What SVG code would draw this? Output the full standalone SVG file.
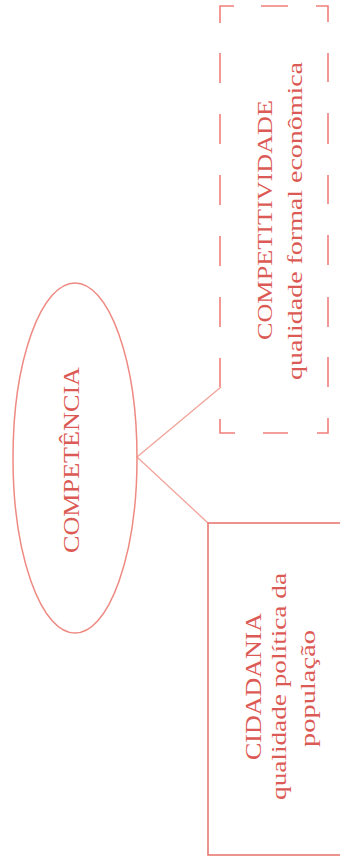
<svg xmlns="http://www.w3.org/2000/svg" width="340" height="863" viewBox="0 0 340 863">
  <style>
    .lbl { font-family: "Liberation Serif", "Times New Roman", serif; fill: #dc5a55; text-anchor: middle; }
    .edge { stroke: #f2a39a; stroke-width: 1.3; fill: none; }
    .ell { stroke: #ee8a82; stroke-width: 1.5; fill: none; }
    .dash { stroke: #f07f7a; stroke-width: 1.6; fill: none; }
    .box { stroke: #e8706a; stroke-width: 1.5; fill: none; }
  </style>
  <rect width="340" height="863" fill="#ffffff"/>
  <g id="connectors">
    <line class="edge" x1="137" y1="457" x2="221" y2="387"/>
    <line class="edge" x1="137" y1="457" x2="208" y2="523"/>
  </g>
  <g id="competencia">
    <ellipse class="ell" cx="75" cy="458" rx="62" ry="175"/>
    <text class="lbl" font-size="23" transform="translate(79,460) rotate(-90)" textLength="186" lengthAdjust="spacingAndGlyphs">COMPETÊNCIA</text>
  </g>
  <g id="competitividade">
    <path class="dash" d="M220 23 V6 H234 M261 6 H288 M316 6 H328 V22
      M220 53 V83 M220 114 V144 M220 175 V205 M220 236 V266 M220 297 V327 M220 358 V387 M220 419 V433 H235
      M328 53 V82 M328 113 V144 M328 175 V204 M328 235 V265 M328 297 V327 M328 357 V387 M328 418 V433 H317
      M263 433 H288"/>
    <text class="lbl" font-size="21.5" transform="translate(271.5,220) rotate(-90)" textLength="240" lengthAdjust="spacingAndGlyphs">COMPETITIVIDADE</text>
    <text class="lbl" font-size="22" transform="translate(302,221) rotate(-90)" textLength="318" lengthAdjust="spacingAndGlyphs">qualidade formal econômica</text>
  </g>
  <g id="cidadania">
    <rect class="box" x="208" y="523" width="150" height="332"/>
    <text class="lbl" font-size="24" transform="translate(260.5,686.5) rotate(-90)" textLength="147" lengthAdjust="spacingAndGlyphs">CIDADANIA</text>
    <text class="lbl" font-size="22" transform="translate(285.5,686.5) rotate(-90)" textLength="227" lengthAdjust="spacingAndGlyphs">qualidade política da</text>
    <text class="lbl" font-size="22" transform="translate(314.5,688.5) rotate(-90)" textLength="117" lengthAdjust="spacingAndGlyphs">população</text>
  </g>
</svg>
